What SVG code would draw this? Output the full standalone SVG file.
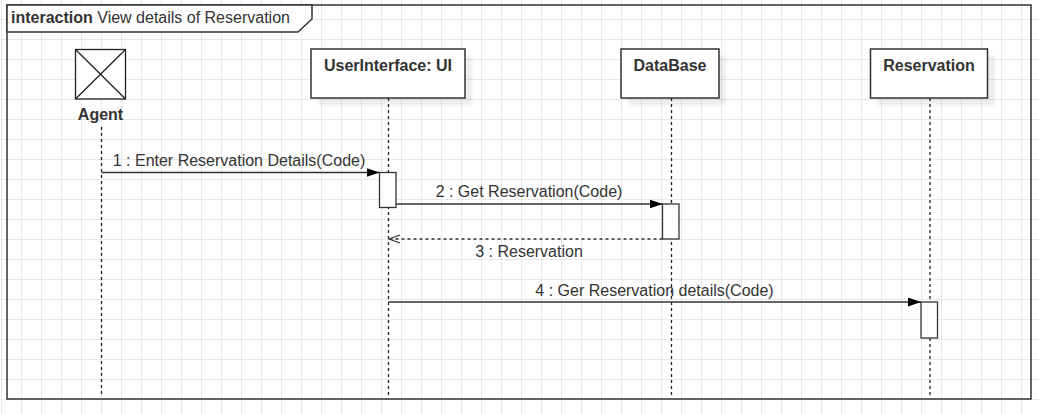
<svg xmlns="http://www.w3.org/2000/svg" width="1039" height="414" viewBox="0 0 1039 414">
  <style>
    text { font-family: "Liberation Sans", Arial, sans-serif; font-size: 16px; fill: #333; }
    .bold { font-weight: bold; }
    .mid { text-anchor: middle; }
    .box { fill: #fff; stroke: #333; stroke-width: 1.5; }
    .shadow { fill: #000; fill-opacity: 0.07; }
    .life { stroke: #222; stroke-width: 1.3; stroke-dasharray: 3 3; fill: none; }
    .act { fill: #fff; stroke: #333; stroke-width: 1.3; }
    .msg { stroke: #333; stroke-width: 1.3; fill: none; }
    .ret { stroke: #333; stroke-width: 1.3; fill: none; stroke-dasharray: 3 3; }
  </style>
  <defs>
    <pattern id="grid" width="20" height="20" patternUnits="userSpaceOnUse" x="1" y="19">
      <path d="M0 0.5 H20 M0.5 0 V20" stroke="#e8e8e8" stroke-width="1" fill="none"/>
    </pattern>
    <filter id="blur" x="-10%" y="-10%" width="120%" height="120%">
      <feGaussianBlur stdDeviation="1.5"/>
    </filter>
    <marker id="filled" markerUnits="userSpaceOnUse" markerWidth="14" markerHeight="10" refX="13" refY="4.5" orient="auto">
      <path d="M0,0 L13,4.5 L0,9 Z" fill="#000"/>
    </marker>
    <marker id="open" markerUnits="userSpaceOnUse" markerWidth="13" markerHeight="10" refX="11.5" refY="4.5" orient="auto">
      <path d="M0.5,0.5 L11.5,4.5 L0.5,8.5" fill="none" stroke="#333" stroke-width="1.3"/>
    </marker>
  </defs>

  <rect x="0" y="0" width="1039" height="414" fill="#fff"/>
  <rect x="0" y="0" width="1039" height="414" fill="url(#grid)"/>

  <g id="frame">
    <rect x="7" y="5" width="1024" height="394" fill="none" stroke="#333" stroke-width="1.5"/>
    <path d="M7,5 H312 V19 L298,32 H7 Z" fill="#fff" stroke="#333" stroke-width="1.5"/>
    <text x="11" y="23"><tspan class="bold">interaction</tspan> View details of Reservation</text>
  </g>

  <g id="agent">
    <line class="life" x1="101.5" y1="127" x2="101.5" y2="397"/>
    <rect x="75.5" y="49.5" width="50" height="49.5" fill="#fff" stroke="#222" stroke-width="1.3"/>
    <path d="M75.5,49.5 L125.5,99 M125.5,49.5 L75.5,99" stroke="#222" stroke-width="1.3"/>
    <text class="bold mid" x="100.5" y="119.5">Agent</text>
  </g>

  <g id="ui">
    <rect class="shadow" x="318" y="56" width="154" height="49" filter="url(#blur)"/>
    <rect class="box" x="311" y="49" width="154" height="49"/>
    <text class="bold mid" x="388" y="70.5">UserInterface: UI</text>
    <line class="life" x1="388.5" y1="98" x2="388.5" y2="397"/>
    <rect class="act" x="379.5" y="172.5" width="16.5" height="35"/>
  </g>

  <g id="database">
    <rect class="shadow" x="628" y="56" width="98" height="49" filter="url(#blur)"/>
    <rect class="box" x="621" y="49" width="98" height="49"/>
    <text class="bold mid" x="670" y="70.5">DataBase</text>
    <line class="life" x1="671.5" y1="98" x2="671.5" y2="397"/>
    <rect class="act" x="662.5" y="204" width="16.5" height="35"/>
  </g>

  <g id="reservation">
    <rect class="shadow" x="877" y="56" width="118" height="49" filter="url(#blur)"/>
    <rect class="box" x="870.5" y="49" width="117" height="49"/>
    <text class="bold mid" x="929" y="70.5">Reservation</text>
    <line class="life" x1="930" y1="98" x2="930" y2="397"/>
    <rect class="act" x="921" y="302" width="16.5" height="36"/>
  </g>

  <g id="connectors">
    <line class="msg" x1="101.5" y1="172.5" x2="379.5" y2="172.5" marker-end="url(#filled)"/>
    <text class="mid" x="239" y="165.5">1 : Enter Reservation Details(Code)</text>
    <line class="msg" x1="396" y1="204" x2="662.5" y2="204" marker-end="url(#filled)"/>
    <text class="mid" x="529" y="197">2 : Get Reservation(Code)</text>
    <line class="ret" x1="662.5" y1="239" x2="389" y2="239" marker-end="url(#open)"/>
    <text class="mid" x="529" y="257">3 : Reservation</text>
    <line class="msg" x1="388.5" y1="302" x2="921" y2="302" marker-end="url(#filled)"/>
    <text class="mid" x="654.5" y="296">4 : Ger Reservation details(Code)</text>
  </g>
</svg>
